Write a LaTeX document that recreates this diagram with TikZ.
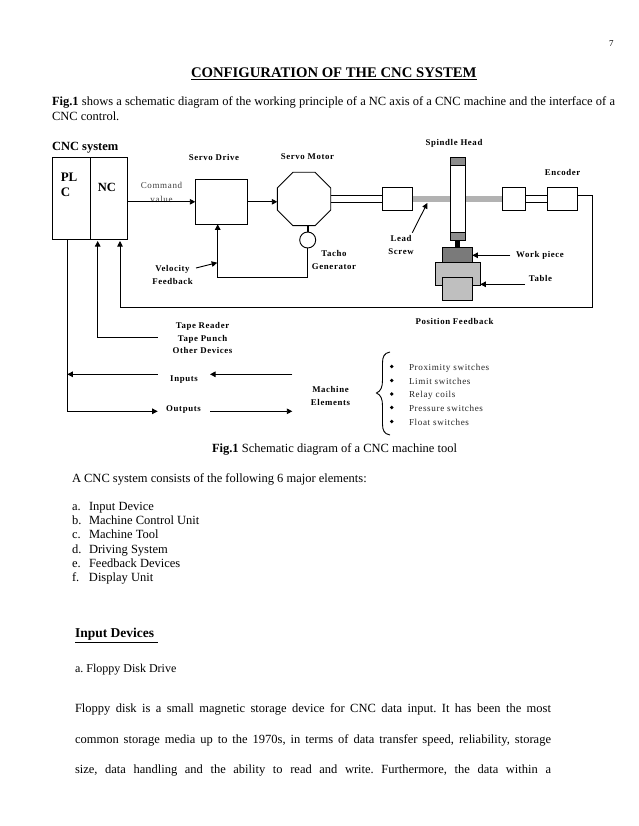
\documentclass[tikz,border=0pt]{standalone}
\usepackage{fontspec}
\setmainfont{Liberation Serif}
\newfontfamily\labfont[LetterSpace=7]{Liberation Serif}
\usetikzlibrary{arrows.meta,shapes.geometric}
\newcommand{\spreadline}[2]{\makebox[#1pt][s]{#2}}
\newcommand{\itemlabel}[1]{\makebox[17pt][l]{#1}}
\frenchspacing
\tikzset{
  x=1pt,y=-1pt,
  every path/.style={line width=0.9pt},
  tip/.style={-{Triangle[length=5.5pt,width=5.5pt]}},
  bx/.style={draw=black,fill=white,rectangle,inner sep=0pt,outer sep=0pt,line width=0.9pt},
  txt/.style={inner sep=0pt,outer sep=0pt,anchor=base west,font=\fontsize{12.5}{14}\selectfont},
  hd/.style={inner sep=0pt,outer sep=0pt,anchor=base west,font=\fontsize{12.5}{14}\selectfont\bfseries},
  lab/.style={inner sep=0pt,outer sep=0pt,align=center,anchor=center,font=\fontsize{8.8}{12.5}\labfont\bfseries},
  lst/.style={inner sep=0pt,outer sep=0pt,anchor=base west,font=\fontsize{9.1}{12}\labfont\color{black!85}},
  dot/.style={circle,fill=black,inner sep=0pt,minimum size=3.6pt},
}
\begin{document}
\begin{tikzpicture}
\useasboundingbox (0,0) rectangle (638,826);
\fill[white] (0,0) rectangle (638,826);
% page text
\node[txt] (pg) at (609,47) {\fontsize{9}{10}\selectfont 7};
\node[hd] (title) at (191,77.5) {\fontsize{14.7}{16}\selectfont\underline{CONFIGURATION OF THE CNC SYSTEM}};
\node[txt] (p1) at (52,105.5) {\spreadline{563}{\textbf{Fig.1} shows a schematic diagram of the working principle of a NC axis of a CNC machine and the interface of a}};
\node[txt] (p2) at (52,121) {CNC control.};
\node[hd] (cnc) at (52,150.5) {CNC system};
% PLC / NC
\node[bx,minimum width=37.7pt,minimum height=81.6pt] (plc) at (71.2,198.5) {};
\node[bx,minimum width=37.4pt,minimum height=81.6pt] (nc) at (109,198.5) {};
\node[inner sep=0pt,align=left,font=\fontsize{13}{15}\selectfont\bfseries,anchor=north west] (plct) at (60.3,173) {PL\\C};
\node[inner sep=0pt,font=\fontsize{12.5}{15}\selectfont\bfseries] (nct) at (107,187) {NC};
% servo drive, motor
\node[lab] (sdl) at (214,157) {Servo Drive};
\node[lab] (sml) at (307.5,156.5) {Servo Motor};
\node[bx,minimum width=52pt,minimum height=45pt] (drive) at (221.3,201.8) {};
\node[draw=black,fill=white,regular polygon,regular polygon sides=8,minimum size=57.8pt,inner sep=0pt,outer sep=0pt] (motor) at (304,199) {};
\node[draw=black,fill=white,circle,minimum size=16pt,inner sep=0pt,outer sep=0pt] (tacho) at (307.7,240) {};
\draw[line width=2.2pt] (tacho.north) -- (tacho.north |- motor.south);
\node[inner sep=0pt,align=center,font=\fontsize{9}{14}\labfont\color{black!75}] (cmd) at (161.5,192) {Command\\value};
\draw[tip] (nc.east |- drive.center) -- (drive.west);
\draw[tip] (drive.east) -- (drive.east -| motor.west);
\coordinate (fbk) at (217.7,277);
\draw[tip] (tacho.south) |- (fbk) -- (fbk |- drive.south);
\node[lab] (vel) at (172.5,275) {Velocity\\Feedback};
\coordinate (velfrom) at (196,268);
\coordinate (velto) at (217.2,262.7);
\draw[tip] (velfrom) -- (velto);
\node[lab] (tachol) at (334,260) {Tacho\\Generator};
% shaft
\node[bx,minimum width=30.4pt,minimum height=23pt] (b1) at (397.5,198.8) {};
\node[bx,minimum width=23pt,minimum height=23pt] (b2) at (513.8,198.8) {};
\node[bx,minimum width=30.4pt,minimum height=23pt] (enc) at (562.5,198.8) {};
\draw (motor.east |- 0,195.3) -- (b1.west |- 0,195.3);
\draw (motor.east |- 0,202.3) -- (b1.west |- 0,202.3);
\draw (b2.east |- 0,195.3) -- (enc.west |- 0,195.3);
\draw (b2.east |- 0,202.3) -- (enc.west |- 0,202.3);
\node[draw=none,fill=black!30,rectangle,minimum width=89pt,minimum height=6.8pt,inner sep=0pt] (screw) at (457.5,199) {};
% spindle
\node[bx,minimum width=15.4pt,minimum height=83pt] (col) at (458,198.8) {};
\node[bx,fill=black!45,minimum width=15.4pt,minimum height=8pt] (captop) at (458,161.3) {};
\node[bx,fill=black!45,minimum width=15.4pt,minimum height=8pt] (capbot) at (458,236.3) {};
\node[fill=black,rectangle,minimum width=5.5pt,minimum height=7.2pt,inner sep=0pt] (nub) at (457.6,243.8) {};
\node[bx,fill=black!25,minimum width=45pt,minimum height=23pt] (table) at (457.8,273.8) {};
\node[bx,fill=black!52,minimum width=30pt,minimum height=15pt] (wp) at (457.3,254.8) {};
\node[bx,fill=black!25,minimum width=30pt,minimum height=23.3pt] (tl) at (457.3,288.7) {};
\node[lab] (shl) at (454,143.5) {Spindle Head};
\node[lab] (encl) at (562.5,172) {Encoder};
\node[lab] (lsl) at (401,245) {Lead\\Screw};
\coordinate (lsfrom) at (412.3,232.7);
\coordinate (lsto) at (427.3,203);
\draw[tip] (lsfrom) -- (lsto);
\node[lab] (wpl) at (540,255) {Work piece};
\coordinate (wpfrom) at (510.3,255.3);
\draw[tip] (wpfrom) -- (wp.east |- wpfrom);
\node[lab] (tbl) at (540.5,278.5) {Table};
\coordinate (tbfrom) at (525,284.3);
\draw[tip] (tbfrom) -- (table.east |- tbfrom);
% position feedback
\coordinate (pfa) at (592.3,195.3);
\coordinate (pfb) at (592.3,307);
\coordinate (pfc) at (120,307);
\coordinate (nctip) at (120,241);
\draw[tip] (enc.east |- pfa) -- (pfa) -- (pfb) -- (pfc) -- (nctip);
\node[lab] (pfl) at (454.5,321) {Position Feedback};
% lower
\node[lab] (tape) at (202.5,338) {Tape Reader\\Tape Punch\\Other Devices};
\coordinate (tpa) at (157.7,337.3);
\coordinate (tpb) at (97.7,337.3);
\coordinate (tptip) at (97.7,241);
\draw[tip] (tpa) -- (tpb) -- (tptip);
\node[lab] (inp) at (184,379.5) {Inputs};
\node[lab] (outp) at (183.5,409.5) {Outputs};
\coordinate (bus) at (67.3,239.3);
\coordinate (busin) at (67.3,374.3);
\coordinate (busout) at (67.3,411.3);
\coordinate (i1) at (157.7,374.3);
\coordinate (i2) at (210,374.3);
\coordinate (i3) at (292.3,374.3);
\coordinate (o1) at (157.7,411.3);
\coordinate (o2) at (210,411.3);
\coordinate (o3) at (292.3,411.3);
\draw[tip] (bus) -- (busout) -- (o1);
\draw[tip] (i1) -- (busin);
\draw[tip] (i3) -- (i2);
\draw[tip] (o2) -- (o3);
\node[lab] (mel) at (330.5,396) {Machine\\Elements};
% brace
\coordinate (brt) at (390,352);
\coordinate (brm) at (376.5,393);
\coordinate (brb) at (390,435);
\draw (brt) .. controls (384,353) and (382.5,357) .. (382.5,363) -- (382.5,380)
  .. controls (382.5,387) and (381,391) .. (brm)
  .. controls (381,395) and (382.5,399) .. (382.5,406) -- (382.5,424)
  .. controls (382.5,430) and (384,434) .. (brb);
\node[dot] (d1) at (391.7,366.5) {};
\node[dot] (d2) at (391.7,380.5) {};
\node[dot] (d3) at (391.7,394) {};
\node[dot] (d4) at (391.7,407.5) {};
\node[dot] (d5) at (391.7,421.5) {};
\node[lst] (l1) at (409,370) {Proximity switches};
\node[lst] (l2) at (409,384) {Limit switches};
\node[lst] (l3) at (409,397.5) {Relay coils};
\node[lst] (l4) at (409,411) {Pressure switches};
\node[lst] (l5) at (409,425) {Float switches};
% caption and body
\node[txt] (cap) at (212,452.5) {\textbf{Fig.1} Schematic diagram of a CNC machine tool};
\node[txt] (a0) at (72,482) {A CNC system consists of the following 6 major elements:};
\node[txt] (a) at (72,510) {\itemlabel{a.}Input Device};
\node[txt] (b) at (72,524) {\itemlabel{b.}Machine Control Unit};
\node[txt] (c) at (72,538.5) {\itemlabel{c.}Machine Tool};
\node[txt] (d) at (72,553) {\itemlabel{d.}Driving System};
\node[txt] (e) at (72,567.5) {\itemlabel{e.}Feedback Devices};
\node[txt] (f) at (72,581.5) {\itemlabel{f.}Display Unit};
\node[hd] (idv) at (75,637.5) {\fontsize{13.5}{15}\selectfont\underline{Input Devices\ }};
\node[txt] (fl) at (75,672) {\fontsize{12}{14}\selectfont a. Floppy Disk Drive};
\node[txt] (b1t) at (75,712.5) {\spreadline{476}{Floppy disk is a small magnetic storage device for CNC data input. It has been the most}};
\node[txt] (b2t) at (75,743) {\spreadline{476}{common storage media up to the 1970s, in terms of data transfer speed, reliability, storage}};
\node[txt] (b3t) at (75,773) {\spreadline{476}{size, data handling and the ability to read and write. Furthermore, the data within a}};
\end{tikzpicture}
\end{document}
